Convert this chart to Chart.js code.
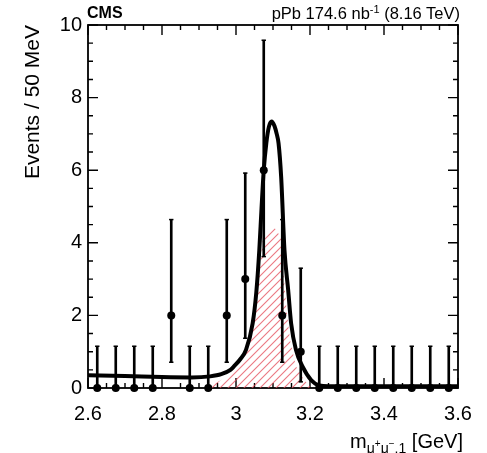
<!DOCTYPE html>
<html><head><meta charset="utf-8">
<script src="https://cdn.jsdelivr.net/npm/chart.js@4.4.1/dist/chart.umd.min.js"></script>
<style>
html,body{margin:0;padding:0;background:#fff;}
#wrap{position:relative;width:487px;height:453px;overflow:hidden;font-family:'Liberation Sans',Arial,sans-serif;color:#000;}
#c{position:absolute;left:0;top:0;}
.lbl{position:absolute;white-space:nowrap;line-height:1;}
#cms{left:87px;top:5px;font-size:16px;font-weight:bold;}
#lumi{right:27px;top:5px;font-size:16.5px;}
#lumi .sp{font-size:11px;position:relative;top:-6px;}
#xt{right:24px;top:431px;font-size:20px;}
#xt .sb{font-size:14px;position:relative;top:5px;}
#xt .sb .sp{font-size:10px;position:relative;top:-6px;}
</style></head><body>
<div id="wrap">
<canvas id="c" width="487" height="453"></canvas>
<div class="lbl" id="cms">CMS</div>
<div class="lbl" id="lumi">pPb 174.6 nb<span class="sp">-1</span> (8.16 TeV)</div>
<div class="lbl" id="xt">m<span class="sb">μ<span class="sp">+</span>μ<span class="sp">−</span>,1</span> [GeV]</div>
</div>
<script>
// ---- data ----
const binCenters = [2.625,2.675,2.725,2.775,2.825,2.875,2.925,2.975,3.025,3.075,3.125,3.175,3.225,3.275,3.325,3.375,3.425,3.475,3.525,3.575];
const counts     = [0,0,0,0,2,0,0,2,3,6,2,1,0,0,0,0,0,0,0,0];
const errLo      = [0,0,0,0,0.71,0,0,0.71,1.37,3.62,0.71,0.17,0,0,0,0,0,0,0,0];
const errHi      = [1.15,1.15,1.15,1.15,4.64,1.15,1.15,4.64,5.92,9.58,4.64,3.30,1.15,1.15,1.15,1.15,1.15,1.15,1.15,1.15];

const fitX = [2.60,2.70,2.80,2.88,2.93,2.96,2.985,2.995,3.012,3.027,3.045,3.055,3.063,3.069,3.075,3.082,3.089,3.096,3.104,3.110,3.115,3.122,3.131,3.141,3.149,3.162,3.180,3.203,3.225,3.25,3.40,3.60];
const fitY = [0.35,0.33,0.30,0.29,0.32,0.38,0.50,0.60,0.80,1.05,1.78,2.65,3.80,4.95,6.00,6.75,7.20,7.34,7.22,7.00,6.74,5.82,3.80,2.70,1.78,1.05,0.59,0.22,0.07,0.05,0.05,0.05];

const sigX = [2.92,2.96,3.004,3.036,3.054,3.063,3.072,3.085,3.098,3.110,3.122,3.128,3.136,3.146,3.162,3.184,3.205];
const sigY = [0,0.22,0.55,1.30,2.24,3.16,4.05,4.35,4.45,4.35,4.10,3.20,2.24,1.32,0.60,0.22,0];

const xTickValues = [2.6,2.8,3.0,3.2,3.4,3.6];
const xTickLabels = ['2.6','2.8','3','3.2','3.4','3.6'];
const yTickValues = [0,2,4,6,8,10];
const yTickLabels = ['0','2','4','6','8','10'];

// ---- styling helpers ----
function makeHatch(){
  const c=document.createElement('canvas'); c.width=8; c.height=8;
  const g=c.getContext('2d');
  g.strokeStyle='rgba(228,75,88,0.75)'; g.lineWidth=1.1;
  g.beginPath();
  g.moveTo(0,8); g.lineTo(8,0);
  g.moveTo(-2,2); g.lineTo(2,-2);
  g.moveTo(6,10); g.lineTo(10,6);
  g.stroke();
  return g.createPattern(c,'repeat');
}
const FONT = "'Liberation Sans', Arial, sans-serif";

const framePlugin = {
  id:'frame',
  beforeDatasetsDraw(chart){
    const {ctx, chartArea:a, scales:{x,y}} = chart;
    ctx.save();
    ctx.strokeStyle='#000';
    ctx.lineWidth=1.4;
    ctx.beginPath();
    for(let i=0;i<=20;i++){
      const px=x.getPixelForValue(2.6+i*0.05);
      const L=(i%4===0)?10:5;
      ctx.moveTo(px,a.bottom); ctx.lineTo(px,a.bottom-L);
      ctx.moveTo(px,a.top); ctx.lineTo(px,a.top+L);
    }
    for(let i=0;i<=20;i++){
      const py=y.getPixelForValue(i*0.5);
      const L=(i%4===0)?10:5;
      ctx.moveTo(a.left,py); ctx.lineTo(a.left+L,py);
      ctx.moveTo(a.right,py); ctx.lineTo(a.right-L,py);
    }
    ctx.stroke();
    ctx.lineWidth=1.8;
    ctx.strokeRect(a.left,a.top,a.right-a.left,a.bottom-a.top);
    ctx.restore();
  }
};

const capData = [];
binCenters.forEach((x,i)=>{
  capData.push({x, y:errHi[i]});
  if(counts[i]>0) capData.push({x, y:errLo[i]});
});

new Chart(document.getElementById('c'), {
  type:'line',
  data:{ datasets:[
    {type:'scatter', label:'Data', data: binCenters.map((x,i)=>({x, y:counts[i]})),
     pointRadius:4, pointHoverRadius:4, backgroundColor:'#000', borderColor:'#000', borderWidth:0,
     showLine:false, clip:false, order:0},
    {type:'scatter', label:'caps', data: capData, pointStyle:'line', pointRadius:2.2,
     borderColor:'#000', borderWidth:1.5, backgroundColor:'#000', showLine:false, clip:false, order:1},
    {type:'bar', label:'err', data: binCenters.map((x,i)=>({x, y:[errLo[i], errHi[i]]})),
     barThickness:2, backgroundColor:'#000', borderWidth:0, grouped:false, order:2},
    {type:'line', label:'Fit', data: fitX.map((x,i)=>({x, y:fitY[i]})),
     borderColor:'#000', borderWidth:4, pointRadius:0, cubicInterpolationMode:'monotone',
     borderCapStyle:'round', borderJoinStyle:'round', fill:false, order:3},
    {type:'line', label:'Signal', data: sigX.map((x,i)=>({x, y:sigY[i]})),
     borderColor:'rgba(0,0,0,0)', borderWidth:0, pointRadius:0, tension:0,
     fill:'origin', backgroundColor: makeHatch(), order:4}
  ]},
  options:{
    responsive:false, animation:false, events:[],
    layout:{padding:{top:25, right:29, left:0, bottom:0}},
    plugins:{legend:{display:false}, tooltip:{enabled:false}},
    scales:{
      x:{type:'linear', min:2.6, max:3.6, offset:false,
        grid:{display:false, drawTicks:false}, border:{display:false},
        afterBuildTicks:(s)=>{ s.ticks = xTickValues.map(v=>({value:v})); },
        afterFit:(s)=>{ s.height = 65; },
        ticks:{autoSkip:false, maxRotation:0, padding:14, color:'#000',
          font:{family:FONT, size:20}, callback:(v,i)=>xTickLabels[i]},
        title:{display:false}
      },
      y:{type:'linear', min:0, max:10,
        grid:{display:false, drawTicks:false}, border:{display:false},
        afterBuildTicks:(s)=>{ s.ticks = yTickValues.map(v=>({value:v})); },
        afterFit:(s)=>{ s.width = 88; },
        ticks:{autoSkip:false, padding:6, color:'#000',
          font:{family:FONT, size:20}, callback:(v,i)=>yTickLabels[i]},
        title:{display:true, text:'Events / 50 MeV', align:'end', color:'#000',
          font:{family:FONT, size:21}, padding:{top:21, bottom:0}}
      }
    }
  },
  plugins:[framePlugin]
});
</script>
</body></html>
